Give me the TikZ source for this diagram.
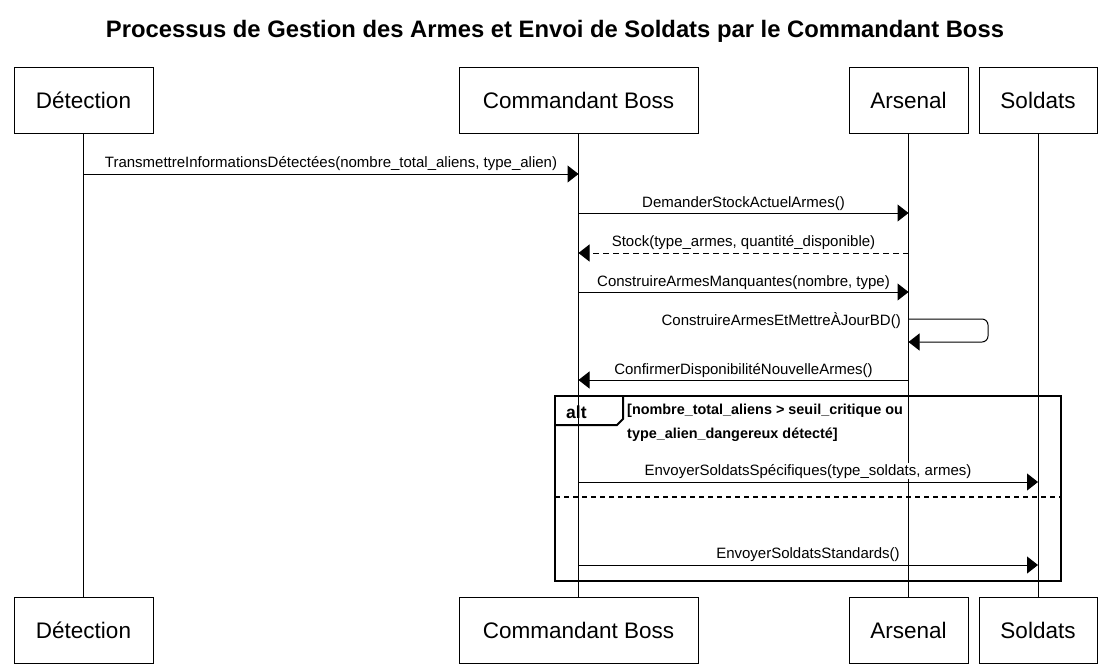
\documentclass[tikz,border=0pt]{standalone}
\usepackage{fontspec}
\setmainfont{Liberation Sans}
\usetikzlibrary{arrows.meta}
\begin{document}
\begin{tikzpicture}[x=1pt,y=-1pt,
  actor/.style={draw, line width=1pt, minimum width=#1, minimum height=66pt, inner sep=0pt, font=\fontsize{22.5}{26}\selectfont},
  life/.style={line width=1pt},
  msg/.style={line width=1pt, -{Triangle[length=11pt,width=17pt]}},
  retmsg/.style={msg, dash pattern=on 6pt off 4pt},
  lbl/.style={font=\fontsize{15}{17}\selectfont, fill=white, inner sep=1pt, anchor=base},
  cond/.style={font=\bfseries\fontsize{14.4}{17}\selectfont, inner sep=0pt, anchor=base west},
  frame/.style={line width=2pt}]
\useasboundingbox (0,0) rectangle (1103,665);
\fill[white] (0,0) rectangle (1103,665);

\node[font=\bfseries\fontsize{23.8}{27}\selectfont, anchor=base] (title) at (555,37) {Processus de Gestion des Armes et Envoi de Soldats par le Commandant Boss};

% actors top
\node[actor=139pt] (dT) at (83.5,100) {Détection};
\node[actor=239pt] (cT) at (578.5,100) {Commandant Boss};
\node[actor=119pt] (aT) at (908.5,100) {Arsenal};
\node[actor=118pt] (sT) at (1038,100) {Soldats};
% actors bottom
\node[actor=139pt] (dB) at (83.5,630) {Détection};
\node[actor=239pt] (cB) at (578.5,630) {Commandant Boss};
\node[actor=119pt] (aB) at (908.5,630) {Arsenal};
\node[actor=118pt] (sB) at (1038,630) {Soldats};

% lifelines
\draw[life] (dT) -- (dB);
\draw[life] (cT) -- (cB);
\draw[life] (aT) -- (aB);
\draw[life] (sT) -- (sB);

% message end points
\coordinate (d1) at (83.5,174);  \coordinate (c1) at (578.5,174);
\coordinate (c2) at (578.5,213); \coordinate (a2) at (908.5,213);
\coordinate (a3) at (908.5,253); \coordinate (c3) at (578.5,253);
\coordinate (c4) at (578.5,292); \coordinate (a4) at (908.5,292);
\coordinate (a5) at (908.5,319); \coordinate (a5r) at (988,319);
\coordinate (a5s) at (988,342); \coordinate (a5b) at (908.5,342);
\coordinate (a6) at (908.5,380); \coordinate (c6) at (578.5,380);
\coordinate (c7) at (578.5,482); \coordinate (s7) at (1038,482);
\coordinate (c8) at (578.5,565); \coordinate (s8) at (1038,565);

% alt frame
\coordinate (fTL) at (555,396); \coordinate (fBR) at (1061,581);
\draw[frame] (fTL) rectangle (fBR);
\draw[frame] (555,425) -- (617,425) -- (623,419) -- (623,396);
\node[font=\bfseries\fontsize{17.5}{20}\selectfont, anchor=base west, inner sep=0pt] (altlbl) at (566,418) {alt};
\draw[frame, dash pattern=on 5pt off 4pt] (555,497) -- (1061,497);

% messages
\draw[msg] (d1) -- (c1);
\node[lbl] (l1) at (331,167) {TransmettreInformationsDétectées(nombre\_total\_aliens, type\_alien)};
\draw[msg] (c2) -- (a2);
\node[lbl] (l2) at (743.5,207) {DemanderStockActuelArmes()};
\draw[retmsg] (a3) -- (c3);
\node[lbl] (l3) at (743.5,246) {Stock(type\_armes, quantité\_disponible)};
\draw[msg] (c4) -- (a4);
\node[lbl] (l4) at (743.5,286) {ConstruireArmesManquantes(nombre, type)};
\draw[msg, rounded corners=6pt] (a5) -- (a5r) -- (a5s) -- (a5b);
\node[lbl, anchor=base east] (l5) at (902,325) {ConstruireArmesEtMettreÀJourBD()};
\draw[msg] (a6) -- (c6);
\node[lbl] (l6) at (743.5,374) {ConfirmerDisponibilitéNouvelleArmes()};

\node[cond] (g1) at (627,414) {[nombre\_total\_aliens > seuil\_critique ou};
\node[cond] (g2) at (627,438) {type\_alien\_dangereux détecté]};

\draw[msg] (c7) -- (s7);
\node[lbl] (l7) at (808,475) {EnvoyerSoldatsSpécifiques(type\_soldats, armes)};
\draw[msg] (c8) -- (s8);
\node[lbl] (l8) at (808,558) {EnvoyerSoldatsStandards()};
\end{tikzpicture}
\end{document}
